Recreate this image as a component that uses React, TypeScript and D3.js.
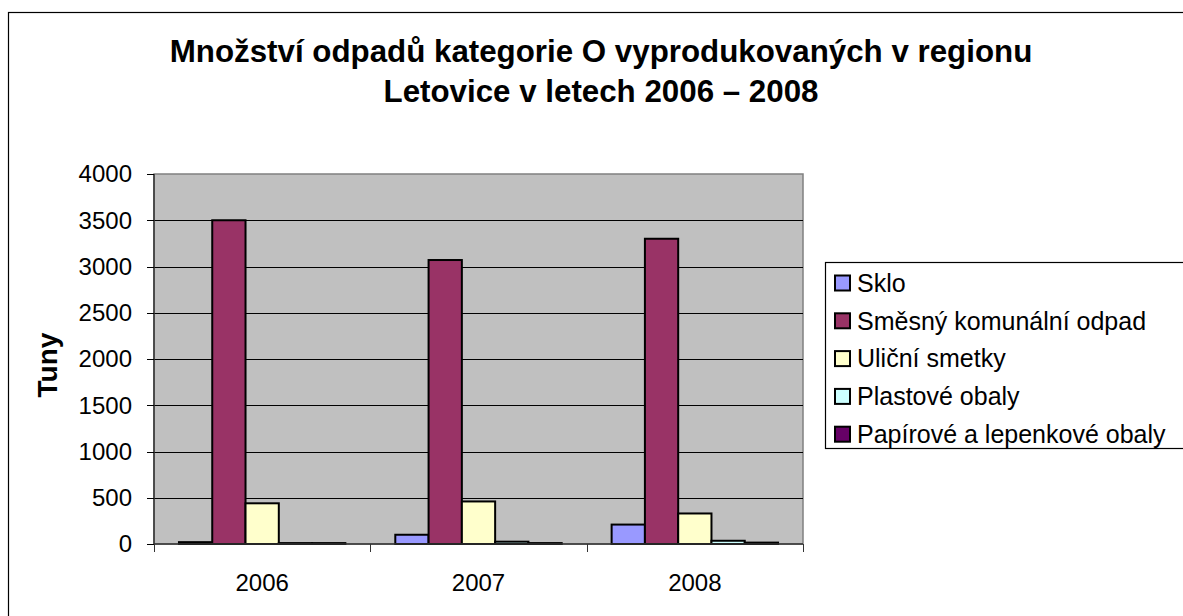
import React from "react";
import * as d3 from "d3";

const years = ["2006", "2007", "2008"];
const seriesNames = ["Sklo", "Směsný komunální odpad", "Uliční smetky", "Plastové obaly", "Papírové a lepenkové obaly"];
const seriesColors = ["#9999FF", "#993366", "#FFFFCC", "#CCFFFF", "#660066"];
const sklo = [20, 100, 210];
const smesny = [3500, 3070, 3300];
const ulicni = [440, 460, 330];
const plastove = [10, 25, 35];
const papirove = [10, 10, 15];
const seriesValues = [sklo, smesny, ulicni, plastove, papirove];
const yTicks = [0, 500, 1000, 1500, 2000, 2500, 3000, 3500, 4000];
const titleLines = ["Množství odpadů kategorie O vyprodukovaných v regionu", "Letovice v letech 2006 – 2008"];
const yAxisTitle = "Tuny";

const FONT = "'Liberation Sans', Arial, sans-serif";

export default function App() {
  const left = 154, right = 803, top = 174, bottom = 544;
  const x0 = d3.scaleBand<string>().domain(years).range([left, right]).padding(0);
  const x1 = d3.scaleBand<string>().domain(seriesNames).range([0, x0.bandwidth()]).paddingInner(0).paddingOuter(0.75);
  const y = d3.scaleLinear().domain([0, 4000]).range([bottom, top]);

  const legendX = 825, legendY = 262, rowH = 37.8, firstRow = 283;

  return (
    <svg width={1183} height={616} style={{ position: "absolute", left: 0, top: 0, background: "#fff" }} fontFamily={FONT}>
      <rect x={0} y={0} width={1183} height={616} fill="#fff" />
      {/* outer chart border */}
      <rect x={8.5} y={12.5} width={1250} height={700} fill="none" stroke="#000" strokeWidth={1.2} />
      {/* title */}
      {titleLines.map((t, i) => (
        <text key={i} x={601} y={62 + i * 40} textAnchor="middle" fontSize={31.3} fontWeight="bold" fill="#000">{t}</text>
      ))}
      {/* plot area */}
      <rect x={left} y={top} width={right - left} height={bottom - top} fill="#C0C0C0" stroke="#808080" strokeWidth={1.5} />
      {yTicks.filter(t => t > 0 && t < 4000).map(t => (
        <line key={t} x1={left} x2={right} y1={Math.round(y(t)) + 0.5} y2={Math.round(y(t)) + 0.5} stroke="#000" strokeWidth={1} />
      ))}
      {/* bars */}
      {years.map((yr, yi) => (
        <g key={yr} transform={`translate(${x0(yr)},0)`}>
          {seriesNames.map((s, si) => {
            const v = seriesValues[si][yi];
            return (
              <rect key={s} x={x1(s)} y={y(v)} width={x1.bandwidth()} height={bottom - y(v)}
                fill={seriesColors[si]} stroke="#000" strokeWidth={2} />
            );
          })}
        </g>
      ))}
      {/* y axis */}
      <line x1={left} x2={left} y1={top} y2={bottom} stroke="#333" strokeWidth={1.5} />
      {yTicks.map(t => (
        <g key={t}>
          <line x1={left - 7} x2={left} y1={Math.round(y(t)) + 0.5} y2={Math.round(y(t)) + 0.5} stroke="#000" strokeWidth={1} />
          <text x={132} y={y(t)} dy="0.35em" textAnchor="end" fontSize={24} fill="#000">{t}</text>
        </g>
      ))}
      <text transform={`translate(57,365) rotate(-90)`} textAnchor="middle" fontSize={28} fontWeight="bold" fill="#000">{yAxisTitle}</text>
      {/* x axis */}
      <line x1={left} x2={right} y1={bottom} y2={bottom} stroke="#333" strokeWidth={1.5} />
      {[...years.map(yr => x0(yr) as number), right].map((xv, i) => (
        <line key={i} x1={Math.round(xv) + 0.5} x2={Math.round(xv) + 0.5} y1={bottom} y2={bottom + 8} stroke="#333" strokeWidth={1} />
      ))}
      {years.map(yr => (
        <text key={yr} x={(x0(yr) as number) + x0.bandwidth() / 2} y={591} textAnchor="middle" fontSize={24} fill="#000">{yr}</text>
      ))}
      {/* legend */}
      <rect x={legendX + 0.5} y={legendY + 0.5} width={500} height={186} fill="#fff" stroke="#000" strokeWidth={1.2} />
      {seriesNames.map((s, i) => {
        const cy = firstRow + i * rowH;
        return (
          <g key={s}>
            <rect x={835} y={cy - 7.5} width={15} height={15} fill={seriesColors[i]} stroke="#000" strokeWidth={2} />
            <text x={857} y={cy} dy="0.35em" fontSize={25} fill="#000">{s}</text>
          </g>
        );
      })}
    </svg>
  );
}
